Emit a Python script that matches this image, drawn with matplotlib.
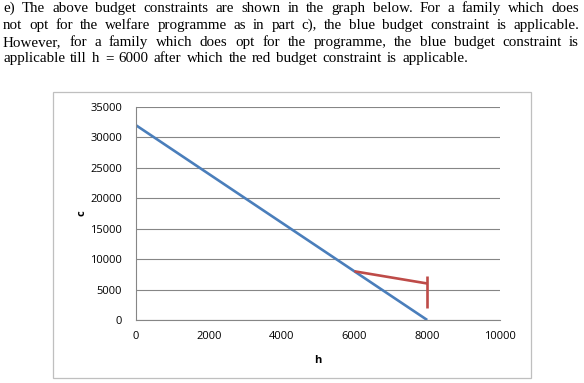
import matplotlib
matplotlib.use("Agg")
import matplotlib.pyplot as plt
from matplotlib.patches import Rectangle

# ---- data ----
blue_h = [0, 8000]
blue_c = [32000, 0]
red_h = [6000, 8000]
red_c = [8000, 6000]
bar_h = [8000, 8000]
bar_c = [1900, 7300]
x_ticks = [0, 2000, 4000, 6000, 8000, 10000]
y_ticks = [0, 5000, 10000, 15000, 20000, 25000, 30000, 35000]

paragraph = [
    "e) The above budget constraints are shown in the graph below. For a family which does",
    "not opt for the welfare programme as in part c), the blue budget constraint is applicable.",
    "However, for a family which does opt for the programme, the blue budget constraint is",
    "applicable till h = 6000 after which the red budget constraint is applicable.",
]

W, H, DPI = 584, 383, 100
fig = plt.figure(figsize=(W / DPI, H / DPI), dpi=DPI)
fig.patch.set_facecolor("white")

# outer chart border
fig.patches.append(Rectangle((53 / W, 1 - 378 / H), (531 - 53) / W, (378 - 92) / H,
                             transform=fig.transFigure, fill=False,
                             edgecolor="#BFBFBF", linewidth=0.9))

tick_font = dict(fontfamily="Open Sans", fontsize=8)
ax = fig.add_axes([136 / W, 1 - 320 / H, (500 - 136) / W, (320 - 107) / H])
ax.plot(blue_h, blue_c, color="#4A7EBB", linewidth=1.9, solid_capstyle="butt")
ax.plot(red_h, red_c, color="#BE4B48", linewidth=1.9, solid_capstyle="butt")
ax.plot(bar_h, bar_c, color="#BE4B48", linewidth=1.9, solid_capstyle="butt")
ax.set_xlim(0, 10000)
ax.set_ylim(0, 35000)
ax.set_xticks(x_ticks)
ax.set_yticks(y_ticks)
ax.set_xticklabels([str(v) for v in x_ticks], **tick_font)
ax.set_yticklabels([str(v) for v in y_ticks], **tick_font)
ax.tick_params(length=0, pad=8)
ax.tick_params(axis="y", pad=10)
ax.grid(axis="y", color="#868686", linewidth=0.8)
ax.set_axisbelow(True)
for s in ["top", "right"]:
    ax.spines[s].set_visible(False)
for s in ["left", "bottom"]:
    ax.spines[s].set_color("#868686")
    ax.spines[s].set_linewidth(0.8)
ax.set_xlabel("h", fontfamily="Open Sans", fontsize=8, fontweight="bold", labelpad=9)
ax.set_ylabel("c", fontfamily="Open Sans", fontsize=8, fontweight="bold", labelpad=2)

# justified paragraph
fig.canvas.draw()
renderer = fig.canvas.get_renderer()
left, right = 3, 579
last_right = 468
baselines = [12, 29, 46, 62]
for i, (line, yb) in enumerate(zip(paragraph, baselines)):
    words = line.split()
    texts = [fig.text(0, 1 - yb / H, w, fontfamily="Liberation Serif", fontsize=10.8,
                      va="baseline", ha="left") for w in words]
    widths = [t.get_window_extent(renderer).width for t in texts]
    r = right if i < len(paragraph) - 1 else last_right
    gap = (r - left - sum(widths)) / (len(words) - 1)
    x = left
    for t, w in zip(texts, widths):
        t.set_x(x / W)
        x += w + gap

fig.savefig("out.png", dpi=DPI)
